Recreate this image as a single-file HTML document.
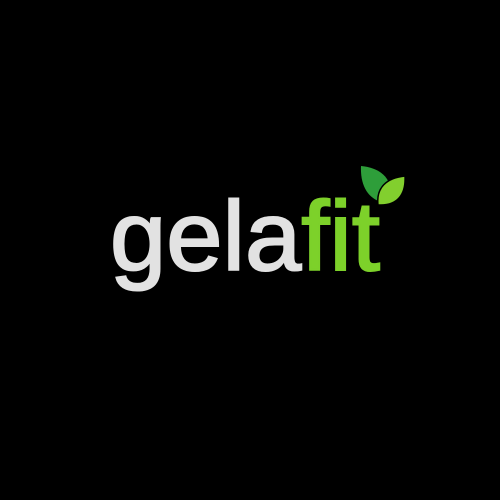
<!DOCTYPE html>
<html><head><meta charset="utf-8"><style>html,body{margin:0;background:#000;width:500px;height:500px;overflow:hidden}</style></head>
<body>
<svg width="500" height="500" viewBox="0 0 500 500" xmlns="http://www.w3.org/2000/svg">
<rect width="500" height="500" fill="#000"/>
<text x="110" y="270" font-family="Liberation Sans, sans-serif" font-size="98" stroke-width="2" textLength="270" lengthAdjust="spacingAndGlyphs"><tspan fill="#e2e2e2" stroke="#e2e2e2">gela</tspan><tspan fill="#7dd12a" stroke="#7dd12a">fit</tspan></text>
<path d="M361 166 C382 168 395 180 390 203 C371 203 360 189 361 166 Z" fill="#2e9e3a"/>
<path d="M405 176 C406 194 398 206 378 205 C376 188 386 178 405 176 Z" fill="#82cf2e" stroke="#000" stroke-width="1.5"/>
</svg>
</body></html>
